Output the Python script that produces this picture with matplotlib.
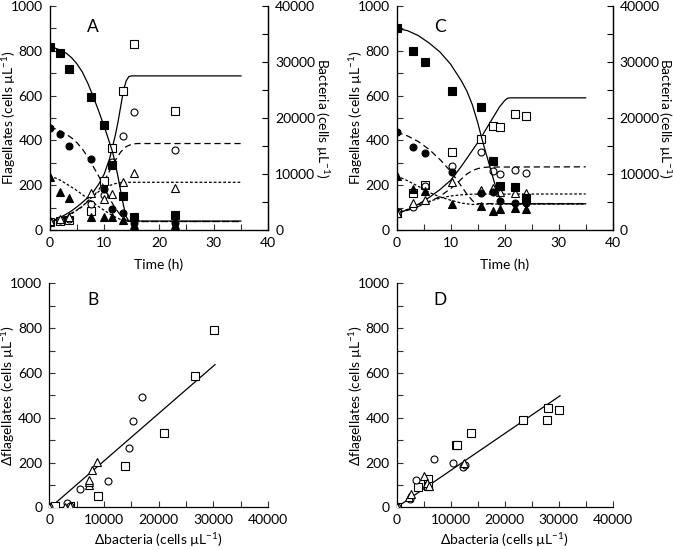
import numpy as np
import matplotlib.pyplot as plt
from matplotlib.ticker import MultipleLocator

plt.rcParams['font.family'] = ['Lato', 'DejaVu Sans']
plt.rcParams['mathtext.fontset'] = 'custom'
plt.rcParams['mathtext.rm'] = 'Lato'
plt.rcParams['mathtext.it'] = 'Lato:italic'

# ---------------- panel A : time course ----------------
tA = [0, 2, 3.5, 7.5, 10, 11.5, 13.5, 15.5, 23]
# bacteria (right axis)
bacA_sq = [32600, 31600, 28800, 23800, 18800, 11600, 6000, 2400, 2600]
bacA_ci = [18300, 17200, 15000, 12600, 7400, 3700, 3000, 1200, 1200]
bacA_tr = [9500, 6700, 5800, 2300, 2300, 2300, 1800, 900, 900]
# flagellates (left axis)
flaA_sq = [37, 42, 45, 86, 219, 368, 620, 829, 531]
flaA_ci = [37, 45, 50, 116, 156, 303, 420, 526, 357]
flaA_tr = [40, 48, 58, 167, 137, 159, 216, 253, 186]

# model curves A
tA_fit_b1 = [0, 1, 2, 3, 4, 5, 6, 7, 8, 9, 10, 11, 11.5, 12, 12.5, 13, 13.5, 14, 14.5, 35]
bA_fit_sq = [32600, 32480, 32120, 31600, 30800, 29680, 28200, 26200, 23800, 21200, 18480,
             15520, 14000, 12000, 9600, 7000, 4480, 2400, 1600, 1600]
tA_fit_f1 = [0, 1, 2, 3, 4, 5, 6, 7, 8, 9, 10, 11, 11.5, 12, 12.5, 13, 13.5, 14, 14.5, 15, 35]
fA_fit_sq = [37, 45, 57, 70, 85, 103, 123, 145, 170, 205, 250, 320, 370, 420, 480, 550, 620,
             665, 685, 688, 688]
tA_fit_b2 = [0, 1, 2, 3, 4, 5, 6, 7, 8, 9, 10, 11, 12, 13, 14, 14.5, 35]
bA_fit_ci = [18200, 18080, 17640, 17120, 16480, 15600, 14480, 13000, 11320, 9600, 7600, 5600,
             3920, 2640, 1800, 1520, 1520]
tA_fit_f2 = [0, 2, 4, 6, 8, 9, 10, 11, 12, 13, 14, 15, 16, 35]
fA_fit_ci = [37, 52, 75, 105, 150, 180, 218, 265, 310, 348, 372, 383, 386, 386]
tA_fit_b3 = [0, 1, 2, 3, 4, 5, 6, 7, 8, 9, 10, 11, 12, 13, 14, 15, 35]
bA_fit_tr = [9520, 9320, 8880, 8280, 7680, 7040, 6320, 5600, 4880, 4160, 3520, 2880, 2320,
             1880, 1600, 1520, 1520]
tA_fit_f3 = [0, 2, 4, 6, 7, 8, 9, 10, 11, 12, 13, 14, 35]
fA_fit_tr = [37, 50, 72, 105, 130, 152, 172, 188, 199, 207, 211, 213, 213]

# ---------------- panel C : time course ----------------
tC = [0, 3, 5.2, 10.3, 15.7, 17.8, 19.1, 21.9, 24]
bacC_sq = [36000, 32000, 30000, 24800, 21900, 12300, 7800, 7700, 5800]
bacC_ci = [17500, 14900, 13800, 10300, 6600, 6800, 5200, 4900, 4800]
bacC_tr = [9700, 7400, 7000, 4600, 4300, 3400, 3700, 4000, 3800]
flaC_sq = [74, 164, 200, 350, 405, 464, 460, 516, 509]
flaC_ci = [74, 104, 195, 287, 350, 265, 250, 268, 256]
flaC_tr = [74, 122, 132, 216, 179, 186, 171, 167, 164]

tC_fit_b1 = [0, 2, 4, 6, 8, 10, 12, 13, 14, 15, 15.7, 16.5, 17, 17.5, 18, 18.5, 19, 19.5, 20, 35]
bC_fit_sq = [36000, 35600, 34720, 33400, 31800, 29600, 26600, 24800, 22400, 19200, 16600,
             13800, 12200, 10480, 8800, 7280, 5920, 5000, 4680, 4680]
tC_fit_f1 = [0, 2, 4, 6, 8, 10, 12, 13, 14, 15, 16, 17, 18, 19, 20, 20.5, 21, 35]
fC_fit_sq = [74, 90, 115, 145, 180, 222, 285, 320, 355, 390, 428, 468, 508, 548, 578, 588,
             590, 590]
tC_fit_b2 = [0, 2, 4, 6, 8, 10, 12, 13, 14, 14.5, 15, 35]
bC_fit_ci = [17480, 16800, 15800, 14400, 12600, 10480, 7800, 6400, 5280, 4880, 4720, 4720]
tC_fit_f2 = [0, 3, 6, 8, 10, 11, 12, 13, 14, 15, 16, 17, 35]
fC_fit_ci = [74, 95, 125, 150, 185, 205, 228, 250, 265, 274, 279, 281, 282]
tC_fit_b3 = [0, 2, 4, 6, 8, 10, 12, 14, 16, 35]
bC_fit_tr = [9680, 8800, 7800, 6720, 5920, 5320, 4800, 4560, 4640, 4640]
tC_fit_f3 = [0, 2, 4, 6, 8, 10, 12, 14, 35]
fC_fit_tr = [74, 92, 112, 128, 142, 152, 157, 160, 161]

# ---------------- panel B : delta plot ----------------
dbB_sq = [0, 1100, 3800, 8850, 13800, 21000, 26600, 30200]
dfB_sq = [0, 5, 5, 52, 183, 332, 585, 793]
dbB_ci = [0, 3300, 3800, 5600, 10800, 14600, 15300, 17000]
dfB_ci = [0, 20, 8, 82, 119, 266, 387, 491]
dbB_tr = [0, 2900, 3700, 7300, 7300, 7300, 7800, 8650]
dfB_tr = [0, 3, 5, 100, 112, 122, 167, 202]
fitB_x = [500, 30300]
fitB_y = [6, 637]

# ---------------- panel D : delta plot ----------------
dbD_sq = [0, 3900, 5850, 5850, 11000, 11200, 13800, 23400, 27800, 28000, 30100]
dfD_sq = [0, 89, 128, 97, 278, 278, 333, 391, 388, 445, 436]
dbD_ci = [0, 2500, 3500, 7000, 10400, 12200, 12600]
dfD_ci = [0, 36, 122, 216, 198, 181, 187]
dbD_tr = [0, 2300, 2700, 5000, 5700, 5900, 12400]
dfD_tr = [0, 46, 58, 138, 107, 97, 196]
fitD_x = [0, 30250]
fitD_y = [0, 498]

LW = 0.9
LONG = (0, (5, 3))
SHORT = (0, (2.2, 1.6))
MS_SQ, MS_CI, MS_TR = 5.6, 5.0, 5.2
FS = 10


def style_axis(ax, xmax, xmajor, xminor, ymajor, yminor):
    ax.set_xlim(0, xmax)
    ax.set_ylim(0, 1000)
    ax.xaxis.set_major_locator(MultipleLocator(xmajor))
    ax.xaxis.set_minor_locator(MultipleLocator(xminor))
    ax.yaxis.set_major_locator(MultipleLocator(ymajor))
    ax.yaxis.set_minor_locator(MultipleLocator(yminor))
    ax.tick_params(which='both', direction='in', labelsize=FS, width=0.8, color='#333333')
    ax.tick_params(which='major', length=4, pad=5)
    ax.tick_params(which='minor', length=4)
    ax.spines['top'].set_visible(False)
    for s in ('left', 'bottom', 'right'):
        ax.spines[s].set_linewidth(0.9)


def set_labels(ax, xlabel, ylabel, xl_y, yl_x):
    ax.set_xlabel(xlabel, fontsize=FS)
    ax.xaxis.label.set_va('center')
    ax.xaxis.set_label_coords(0.5, xl_y)
    ax.set_ylabel(ylabel, fontsize=FS)
    ax.yaxis.label.set_va('center')
    ax.yaxis.set_label_coords(yl_x, 0.5)


def time_panel(ax, letter, t, bsq, bci, btr, fsq, fci, ftr, fits):
    style_axis(ax, 40, 10, 5, 200, 100)
    ax2 = ax.twinx()
    ax2.set_ylim(0, 40000)
    ax2.yaxis.set_major_locator(MultipleLocator(10000))
    ax2.yaxis.set_minor_locator(MultipleLocator(5000))
    ax2.tick_params(which='both', direction='in', labelsize=FS, width=0.8, length=4, pad=5)
    ax2.spines['top'].set_visible(False)
    ax2.spines['right'].set_linewidth(0.9)

    (tb1, b1), (tf1, f1), (tb2, b2), (tf2, f2), (tb3, b3), (tf3, f3) = fits
    ax2.plot(tb1, b1, color='black', lw=LW, ls='-')
    ax.plot(tf1, f1, color='black', lw=LW, ls='-')
    ax2.plot(tb2, b2, color='black', lw=LW, ls=LONG)
    ax.plot(tf2, f2, color='black', lw=LW, ls=LONG)
    ax2.plot(tb3, b3, color='black', lw=LW, ls=SHORT)
    ax.plot(tf3, f3, color='black', lw=LW, ls=SHORT)

    kw = dict(ls='none', mec='black', mew=0.8, zorder=5)
    ax.plot(t, fsq, marker='s', ms=MS_SQ, mfc='white', **kw)
    ax.plot(t, fci, marker='o', ms=MS_CI, mfc='white', **kw)
    ax.plot(t, ftr, marker='^', ms=MS_TR, mfc='white', **kw)
    ax2.plot(t, bsq, marker='s', ms=MS_SQ, mfc='black', **kw)
    ax2.plot(t, bci, marker='o', ms=MS_CI, mfc='black', **kw)
    ax2.plot(t, btr, marker='^', ms=MS_TR, mfc='black', **kw)

    set_labels(ax, 'Time (h)', r'Flagellates (cells µL$^{-1}$)', -0.156, -0.187)
    ax2.set_ylabel(r'Bacteria (cells µL$^{-1}$)', fontsize=FS, rotation=270)
    ax2.yaxis.label.set_va('center')
    ax2.yaxis.set_label_coords(1.244, 0.5)
    ax.text(0.2, 0.905, letter, transform=ax.transAxes, fontsize=12.5, ha='center', va='center')


def delta_panel(ax, letter, dsq, fsq, dci, fci, dtr, ftr, fx, fy):
    style_axis(ax, 40000, 10000, 5000, 200, 100)
    ax.spines['right'].set_visible(False)
    ax.plot(fx, fy, color='black', lw=LW)
    kw = dict(ls='none', mec='black', mew=0.8, mfc='white', zorder=5)
    ax.plot(dsq, fsq, marker='s', ms=MS_SQ, **kw)
    ax.plot(dci, fci, marker='o', ms=MS_CI, **kw)
    ax.plot(dtr, ftr, marker='^', ms=MS_TR, **kw)
    set_labels(ax, r'Δbacteria (cells µL$^{-1}$)', r'Δflagellates (cells µL$^{-1}$)',
               -0.146, -0.187)
    ax.text(0.2, 0.925, letter, transform=ax.transAxes, fontsize=12.5, ha='center', va='center')


fig = plt.figure(figsize=(6.73, 5.5), dpi=100)
axA = fig.add_axes([0.0736, 0.5818, 0.3251, 0.4073])
axC = fig.add_axes([0.5894, 0.5818, 0.3210, 0.4073])
axB = fig.add_axes([0.0733, 0.0776, 0.3250, 0.4073])
axD = fig.add_axes([0.5894, 0.0776, 0.3210, 0.4073])

time_panel(axA, 'A', tA, bacA_sq, bacA_ci, bacA_tr, flaA_sq, flaA_ci, flaA_tr,
           [(tA_fit_b1, bA_fit_sq), (tA_fit_f1, fA_fit_sq), (tA_fit_b2, bA_fit_ci),
            (tA_fit_f2, fA_fit_ci), (tA_fit_b3, bA_fit_tr), (tA_fit_f3, fA_fit_tr)])
time_panel(axC, 'C', tC, bacC_sq, bacC_ci, bacC_tr, flaC_sq, flaC_ci, flaC_tr,
           [(tC_fit_b1, bC_fit_sq), (tC_fit_f1, fC_fit_sq), (tC_fit_b2, bC_fit_ci),
            (tC_fit_f2, fC_fit_ci), (tC_fit_b3, bC_fit_tr), (tC_fit_f3, fC_fit_tr)])
delta_panel(axB, 'B', dbB_sq, dfB_sq, dbB_ci, dfB_ci, dbB_tr, dfB_tr, fitB_x, fitB_y)
delta_panel(axD, 'D', dbD_sq, dfD_sq, dbD_ci, dfD_ci, dbD_tr, dfD_tr, fitD_x, fitD_y)

for ax in (axA, axB, axC, axD):
    for lab in ax.get_xticklabels() + ax.get_yticklabels():
        lab.set_clip_on(False)

fig.savefig('out.png', dpi=100)
